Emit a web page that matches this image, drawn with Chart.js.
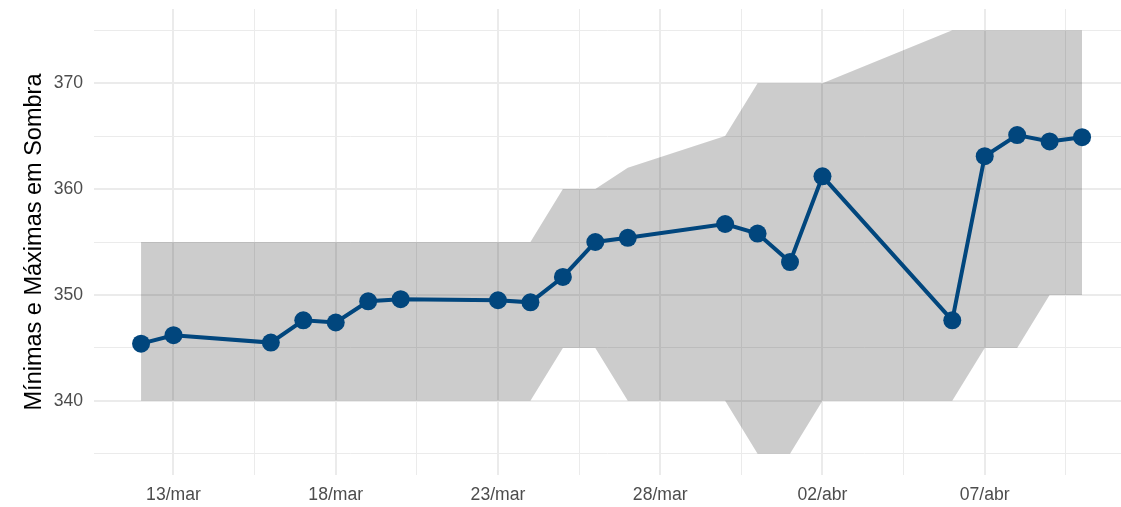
<!DOCTYPE html>
<html>
<head>
<meta charset="utf-8">
<script src="https://cdn.jsdelivr.net/npm/chart.js@4"></script>
<style>
  html, body { margin: 0; padding: 0; background: #fff; overflow: hidden; }
  #wrap { width: 1121px; height: 507px; position: relative; }
</style>
</head>
<body>
<div id="wrap"><canvas id="c" width="1121" height="507"></canvas></div>
<script>
// Day numbers counted from 1 March (32 = 01/abr, 41 = 10/abr)
const days    = [12, 13, 16, 17, 18, 19, 20, 23, 24, 25, 26, 27, 30, 31, 32, 33, 37, 38, 39, 40, 41];
const values  = [345.4, 346.2, 345.5, 347.6, 347.4, 349.4, 349.6, 349.5, 349.3, 351.7, 355.0,
                 355.4, 356.7, 355.8, 353.1, 361.2, 347.6, 363.1, 365.1, 364.5, 364.9];
const minima  = [340, 340, 340, 340, 340, 340, 340, 340, 340, 345, 345,
                 340, 340, 335, 335, 340, 340, 345, 345, 350, 350];
const maxima  = [355, 355, 355, 355, 355, 355, 355, 355, 355, 360, 360,
                 362, 365, 370, 370, 370, 375, 375, 375, 375, 375];

const xMajorTicks = [13, 18, 23, 28, 33, 38];
const xMinorTicks = [15.5, 20.5, 25.5, 30.5, 35.5, 40.5];
const yMajorTicks = [340, 350, 360, 370];
const yMinorTicks = [335, 345, 355, 365, 375];
const yTitle = 'Mínimas e Máximas em Sombra';

const LINE_COLOR = '#01467D';
const GRID_COLOR = '#EBEBEB';
const FONT = '"Liberation Sans", Arial, sans-serif';

function dayLabel(d) {
  const pad = n => String(n).padStart(2, '0');
  return d <= 31 ? pad(d) + '/mar' : pad(d - 31) + '/abr';
}
const toPoints = arr => days.map((d, i) => ({ x: d, y: arr[i] }));
const allTicks = (a, b) => a.concat(b).sort((p, q) => p - q).map(v => ({ value: v }));

new Chart(document.getElementById('c'), {
  type: 'line',
  data: {
    datasets: [
      { label: 'Máximas', data: toPoints(maxima), fill: '+1',
        backgroundColor: 'rgba(0,0,0,0.2)', borderColor: 'transparent', borderWidth: 0,
        pointRadius: 0, tension: 0, order: 1 },
      { label: 'Mínimas', data: toPoints(minima), fill: false,
        borderColor: 'transparent', borderWidth: 0, pointRadius: 0, tension: 0, order: 2 },
      { label: 'Sombra', data: toPoints(values), fill: false,
        borderColor: LINE_COLOR, backgroundColor: LINE_COLOR, borderWidth: 4,
        pointRadius: 9, pointHoverRadius: 9, pointBorderWidth: 0, tension: 0, order: 0 }
    ]
  },
  options: {
    responsive: false,
    animation: false,
    events: [],
    layout: { autoPadding: false, padding: { top: 9, right: 0, bottom: 0, left: 0 } },
    plugins: { legend: { display: false }, tooltip: { enabled: false } },
    scales: {
      x: {
        type: 'linear', min: 10.55, max: 42.2, bounds: 'data',
        afterBuildTicks: s => { s.ticks = allTicks(xMajorTicks, xMinorTicks); },
        afterFit: s => { s.height = 32; s.paddingLeft = 0; s.paddingRight = 0; },
        border: { display: false },
        grid: {
          color: GRID_COLOR, drawTicks: false,
          lineWidth: c => (c.tick && xMajorTicks.includes(c.tick.value)) ? 2 : 1
        },
        ticks: {
          autoSkip: false, maxRotation: 0, padding: 10, color: '#4D4D4D',
          font: { family: FONT, size: 17.6 },
          callback: v => xMajorTicks.includes(v) ? dayLabel(v) : ''
        }
      },
      y: {
        type: 'linear', min: 333, max: 377, bounds: 'data',
        afterBuildTicks: s => { s.ticks = allTicks(yMajorTicks, yMinorTicks); },
        afterFit: s => { s.width = 94; s.paddingTop = 0; s.paddingBottom = 0; },
        border: { display: false },
        grid: {
          color: GRID_COLOR, drawTicks: false,
          lineWidth: c => (c.tick && yMajorTicks.includes(c.tick.value)) ? 2 : 1
        },
        ticks: {
          autoSkip: false, padding: 11, color: '#4D4D4D',
          font: { family: FONT, size: 17.6 },
          callback: v => yMajorTicks.includes(v) ? String(v) : ''
        },
        title: {
          display: true, text: yTitle, color: '#000',
          font: { family: FONT, size: 23.5 },
          padding: { top: 20, bottom: 0 }
        }
      }
    }
  }
});
</script>
</body>
</html>
